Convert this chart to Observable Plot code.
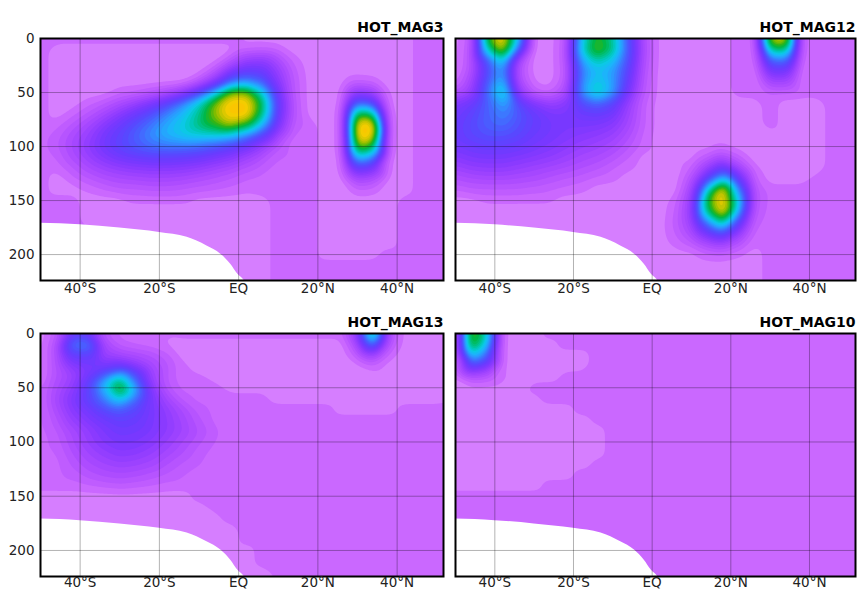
<!DOCTYPE html>
<html><head><meta charset="utf-8">
<script src="https://cdn.jsdelivr.net/npm/d3@7"></script>
<script src="https://cdn.jsdelivr.net/npm/@observablehq/plot@0.6"></script>
<style>
body{margin:0;background:#fff;}
#wrap{position:relative;width:860px;height:591px;font-family:"DejaVu Sans",sans-serif;}
.panel{position:absolute;}
</style></head><body><div id="wrap"></div>
<script>
// grid node positions (latitude, depth)
const latNodes = [-50,-46,-42,-38,-34,-30,-26,-22,-18,-14,-10,-6,-2,2,6,10,14,18,22,26,30,34,38,42,46,50,54];
const depthNodes = [0,10,20,30,40,50,60,70,80,90,100,110,120,130,140,150,160,170,180,190,200,210,220,230];
const latTicks = [-40,-20,0,20,40];
const depthTicks = [0,50,100,150,200];
const titles = ["HOT_MAG3","HOT_MAG12","HOT_MAG13","HOT_MAG10"];

const mag3 = [
[4,4,4,4,4,4,4,4,4,4,4,4,4,1,1,1,1,1,1,1,1,1,1,1,4,4,4],
[4,1,1,1,1,1,1,1,1,1,1,1,1,4,5,4,1,1,1,1,1,1,1,1,4,4,4],
[4,1,1,1,1,1,1,1,1,1,1,1,8,18,20,12,4,1,1,1,1,1,1,1,4,4,4],
[4,1,1,1,1,1,1,1,1,1,1,8,24,32,30,18,6,1,1,1,1,1,1,1,4,4,4],
[4,1,1,1,1,1,1,1,1,1,8,22,44,50,42,22,7,1,1,1,5,4,1,1,4,4,4],
[4,1,1,1,1,4,5,8,12,20,35,58,86,88,64,28,7,1,1,2,20,16,2,1,4,4,4],
[4,1,1,4,7,12,18,25,35,48,64,86,100,100,76,32,8,1,1,2,44,38,2,1,4,4,4],
[4,1,4,8,14,22,30,38,48,58,70,88,100,100,72,30,8,1,1,3,80,74,3,1,4,4,4],
[4,4,8,14,22,30,38,46,55,62,72,80,90,80,56,25,6,4,1,3,100,100,3,1,4,4,4],
[4,6,12,18,27,34,42,50,56,60,62,62,58,48,34,15,4,4,1,3,100,98,3,1,4,4,4],
[4,7,13,20,28,35,40,44,46,46,44,40,35,28,18,8,3,4,1,3,88,78,3,1,4,4,4],
[4,5,11,17,23,28,31,33,33,32,30,26,22,16,10,5,4,4,1,2,60,50,2,1,4,4,4],
[4,3,7,12,16,19,21,22,22,21,19,16,13,9,6,4,4,4,1,2,32,26,2,1,4,4,4],
[4,1,4,7,10,12,13,14,14,13,11,9,7,5,4,4,4,4,1,1,14,11,1,1,4,4,4],
[4,1,1,3,5,7,7,8,8,7,6,5,4,3,4,4,4,4,1,1,5,4,1,1,4,4,4],
[4,4,4,1,1,1,3,3,3,3,1,1,1,1,1,4,4,4,1,1,1,1,1,4,4,4,4],
[4,4,4,1,1,1,1,1,1,1,1,1,1,1,1,4,4,4,1,1,1,1,1,4,4,4,4],
[4,4,4,1,1,1,1,1,1,1,1,1,1,1,1,4,4,4,1,1,1,1,1,4,4,4,4],
[4,4,4,4,1,1,1,1,1,1,1,1,1,1,1,4,4,4,1,1,1,1,1,4,4,4,4],
[4,4,4,4,1,1,1,1,1,1,1,1,1,1,1,4,4,4,1,1,1,1,1,4,4,4,4],
[4,4,4,4,1,1,1,1,1,1,1,1,1,1,1,4,4,4,1,1,1,1,4,4,4,4,4],
[4,4,4,4,1,1,1,1,1,1,1,1,1,1,1,4,4,4,4,4,4,4,4,4,4,4,4],
[4,4,4,4,1,1,1,1,1,1,1,1,1,1,1,4,4,4,4,4,4,4,4,4,4,4,4],
[4,4,4,4,1,1,1,1,1,1,1,1,1,1,1,4,4,4,4,4,4,4,4,4,4,4,4]
];

const mag12 = [
[1,6,80,100,60,1,1,6,58,80,68,38,10,1,1,1,1,1,4,3,94,98,4,4,4,4,4],
[1,8,66,94,46,1,1,7,62,86,72,40,11,1,1,1,1,1,4,3,72,74,4,4,4,4,4],
[1,9,40,64,14,1,1,7,52,68,60,38,10,1,1,1,1,1,4,3,44,46,3,4,4,4,4],
[1,10,36,52,10,1,1,6,46,58,52,34,9,1,1,1,1,1,4,2,28,28,2,4,4,4,4],
[3,14,40,58,12,2,1,7,48,62,52,30,8,1,1,1,1,1,4,2,15,15,2,4,4,4,4],
[10,18,44,68,20,6,4,12,50,68,52,26,7,1,1,1,1,1,4,4,5,5,4,4,4,4,4],
[24,30,42,54,36,24,18,22,38,44,36,18,5,1,1,1,1,1,1,1,4,1,1,1,4,4,4],
[28,34,42,48,40,32,26,26,30,32,28,16,5,1,1,1,1,1,1,1,4,1,1,1,4,4,4],
[30,36,42,44,38,32,28,26,26,25,22,14,5,1,1,1,1,1,1,1,4,1,1,1,4,4,4],
[30,35,38,38,35,30,27,24,22,20,17,11,4,1,1,1,1,1,1,1,1,1,1,1,4,4,4],
[27,30,32,32,30,27,24,21,18,16,13,8,4,1,1,1,1,3,1,1,1,1,1,1,4,4,4],
[22,25,26,26,24,22,20,17,14,12,9,5,1,1,1,1,6,12,6,1,1,1,1,1,4,4,4],
[16,19,20,20,18,16,14,12,10,8,5,3,1,1,1,5,17,32,15,3,1,1,1,1,4,4,4],
[10,12,13,13,12,11,9,7,6,4,3,1,1,1,1,10,36,60,30,5,1,1,1,4,4,4,4],
[5,7,7,7,7,6,5,4,3,1,1,1,1,1,1,14,64,100,48,8,4,4,4,4,4,4,4],
[1,1,3,3,3,3,3,1,1,1,1,1,1,1,4,17,80,100,62,9,4,4,4,4,4,4,4],
[1,1,1,1,1,1,1,1,1,1,1,1,1,1,5,18,74,100,56,8,4,4,4,4,4,4,4],
[1,1,1,1,1,1,1,1,1,1,1,1,1,1,6,16,48,72,36,6,4,4,4,4,4,4,4],
[1,1,1,1,1,1,1,1,1,1,1,1,1,1,5,12,28,40,20,4,4,4,4,4,4,4,4],
[1,1,1,1,1,1,1,1,1,1,1,1,1,1,3,6,12,16,9,3,4,4,4,4,4,4,4],
[1,1,1,1,1,1,1,1,1,1,1,1,1,1,1,1,4,5,3,1,4,4,4,4,4,4,4],
[1,1,1,1,1,1,1,1,1,1,1,1,1,1,1,1,1,1,1,1,4,4,4,4,4,4,4],
[1,1,1,1,1,1,1,1,1,1,1,1,1,1,1,1,1,1,1,1,4,4,4,4,4,4,4],
[1,1,1,1,1,1,1,1,1,1,1,1,1,1,1,1,1,1,1,1,4,4,4,4,4,4,4]
];

const mag13 = [
[1,6,28,28,8,4,4,4,3,4,4,4,4,4,4,4,4,4,4,4,22,80,12,1,1,1,4],
[1,10,46,48,14,6,4,3,2,1,1,1,1,1,1,1,1,1,1,1,14,48,9,1,1,1,4],
[1,10,32,34,16,14,12,10,6,1,1,1,1,1,1,1,1,1,1,1,7,16,4,1,1,1,4],
[1,10,22,26,26,30,22,14,8,3,1,1,1,1,1,1,1,1,1,1,1,4,1,1,1,1,4],
[1,10,16,28,46,64,40,17,7,3,3,1,1,1,1,1,1,1,1,1,1,1,1,1,1,1,4],
[4,12,20,34,58,86,54,22,8,4,4,4,1,1,1,1,1,1,1,1,1,1,1,1,1,1,4],
[4,14,24,34,48,64,46,26,14,6,4,4,4,4,4,1,1,1,1,1,1,1,1,1,1,1,4],
[4,12,22,28,36,42,36,27,19,12,6,4,4,4,4,4,4,4,4,1,1,1,1,4,4,4,4],
[4,9,18,24,29,33,31,26,20,14,8,4,4,4,4,4,4,4,4,4,4,4,4,4,4,4,4],
[4,7,13,19,25,29,28,25,20,15,10,6,3,4,4,4,4,4,4,4,4,4,4,4,4,4,4],
[4,6,12,18,23,26,25,22,17,12,8,5,3,4,4,4,4,4,4,4,4,4,4,4,4,4,4],
[4,5,10,15,19,22,21,18,14,10,6,4,4,4,4,4,4,4,4,4,4,4,4,4,4,4,4],
[4,4,8,12,15,17,16,14,10,7,5,4,4,4,4,4,4,4,4,4,4,4,4,4,4,4,4],
[4,4,6,9,11,12,11,9,7,5,4,4,4,4,4,4,4,4,4,4,4,4,4,4,4,4,4],
[4,4,4,5,6,7,6,5,4,4,4,4,4,4,4,4,4,4,4,4,4,4,4,4,4,4,4],
[1,1,1,1,1,1,1,1,1,1,4,4,4,4,4,4,4,4,4,4,4,4,4,4,4,4,4],
[1,1,1,1,1,1,1,1,1,1,1,4,4,4,4,4,4,4,4,4,4,4,4,4,4,4,4],
[1,1,1,1,1,1,1,1,1,1,1,1,4,4,4,4,4,4,4,4,4,4,4,4,4,4,4],
[1,1,1,1,1,1,1,1,1,1,1,1,1,4,4,4,4,4,4,4,4,4,4,4,4,4,4],
[1,1,1,1,1,1,1,1,1,1,1,1,1,4,4,4,4,4,4,4,4,4,4,4,4,4,4],
[1,1,1,1,1,1,1,1,1,1,1,1,1,1,4,4,4,4,4,4,4,4,4,4,4,4,4],
[1,1,1,1,1,1,1,1,1,1,1,1,1,1,4,4,4,4,4,4,4,4,4,4,4,4,4],
[1,1,1,1,1,1,1,1,1,1,1,1,1,1,1,4,4,4,4,4,4,4,4,4,4,4,4],
[1,1,1,1,1,1,1,1,1,1,1,1,1,1,1,1,4,4,4,4,4,4,4,4,4,4,4]
];

const mag10 = [
[2,88,66,2,1,1,4,4,4,4,4,4,4,4,4,4,4,4,4,4,4,4,4,4,4,4,4],
[2,84,60,2,1,1,1,4,4,4,4,4,4,4,4,4,4,4,4,4,4,4,4,4,4,4,4],
[2,62,44,2,1,1,1,1,1,4,4,4,4,4,4,4,4,4,4,4,4,4,4,4,4,4,4],
[2,36,26,2,1,1,1,1,1,4,4,4,4,4,4,4,4,4,4,4,4,4,4,4,4,4,4],
[1,10,8,3,1,1,1,4,4,4,4,4,4,4,4,4,4,4,4,4,4,4,4,4,4,4,4],
[1,1,1,1,1,4,4,4,4,4,4,4,4,4,4,4,4,4,4,4,4,4,4,4,4,4,4],
[1,1,1,1,1,1,4,4,4,4,4,4,4,4,4,4,4,4,4,4,4,4,4,4,4,4,4],
[1,1,1,1,1,1,1,1,4,4,4,4,4,4,4,4,4,4,4,4,4,4,4,4,4,4,4],
[1,1,1,1,1,1,1,1,1,4,4,4,4,4,4,4,4,4,4,4,4,4,4,4,4,4,4],
[1,1,1,1,1,1,1,1,1,1,4,4,4,4,4,4,4,4,4,4,4,4,4,4,4,4,4],
[1,1,1,1,1,1,1,1,1,1,4,4,4,4,4,4,4,4,4,4,4,4,4,4,4,4,4],
[1,1,1,1,1,1,1,1,1,1,4,4,4,4,4,4,4,4,4,4,4,4,4,4,4,4,4],
[1,1,1,1,1,1,1,1,1,4,4,4,4,4,4,4,4,4,4,4,4,4,4,4,4,4,4],
[1,1,1,1,1,1,1,1,4,4,4,4,4,4,4,4,4,4,4,4,4,4,4,4,4,4,4],
[1,1,1,1,1,1,4,4,4,4,4,4,4,4,4,4,4,4,4,4,4,4,4,4,4,4,4],
[4,4,4,4,4,4,4,4,4,4,4,4,4,4,4,4,4,4,4,4,4,4,4,4,4,4,4],
[4,4,4,4,4,4,4,4,4,4,4,4,4,4,4,4,4,4,4,4,4,4,4,4,4,4,4],
[4,4,4,4,4,4,4,4,4,4,4,4,4,4,4,4,4,4,4,4,4,4,4,4,4,4,4],
[4,4,4,4,4,4,4,4,4,4,4,4,4,4,4,4,4,4,4,4,4,4,4,4,4,4,4],
[4,4,4,4,4,4,4,4,4,4,4,4,4,4,4,4,4,4,4,4,4,4,4,4,4,4,4],
[4,4,4,4,4,4,4,4,4,4,4,4,4,4,4,4,4,4,4,4,4,4,4,4,4,4,4],
[4,4,4,4,4,4,4,4,4,4,4,4,4,4,4,4,4,4,4,4,4,4,4,4,4,4,4],
[4,4,4,4,4,4,4,4,4,4,4,4,4,4,4,4,4,4,4,4,4,4,4,4,4,4,4],
[4,4,4,4,4,4,4,4,4,4,4,4,4,4,4,4,4,4,4,4,4,4,4,4,4,4,4]
];

// sea-floor mask boundary (no data below)
const maskLat   = [-52, -50, -40, -30, -20, -13, -8, -4.5, -2, -0.25, 1.4, 2.4];
const maskDepth = [171, 171, 172.5, 175.5, 179.6, 184, 192, 199.6, 209, 218, 224, 230];

// colormap
const cmapStops  = [0, 2.5, 5, 10, 15, 20, 25, 30, 35, 40, 45, 50, 55, 60, 65, 70, 75, 80, 85, 90, 95, 100];
const cmapColors = ["#d67eff","#ca68ff","#bf5cff","#ad4cff","#9c42ff","#8a3aff","#7838ff","#683cff","#5848ff","#4a5cff","#3c78ff","#2c98ff","#1cb4fb","#0cc8e6","#00c8b8","#00c080","#00b848","#30b418","#80bc00","#c4c400","#f4cc00","#ffc000"];

const ramp = d3.scaleLinear(cmapStops, cmapColors).interpolate(d3.interpolateRgb).clamp(true);
const levels = d3.range(0, 100, 2.5);
const fmtLat = v => v === 0 ? "EQ" : Math.abs(v) + "°" + (v < 0 ? "S" : "N");
const mask = maskLat.map((lat, i) => ({lat, depth: maskDepth[i]}));

function toPoints(grid) {
  const pts = [];
  depthNodes.forEach((depth, j) => latNodes.forEach((lat, i) => pts.push({lat, depth, v: grid[j][i]})));
  return pts;
}

function panel(grid, title, o) {
  const marks = [
    Plot.contour(toPoints(grid), {
      x: "lat", y: "depth", fill: "v",
      interpolate: "barycentric", blur: 4, pixelSize: 1,
      thresholds: levels, clip: true
    }),
    Plot.areaY(mask, {x: "lat", y1: "depth", y2: () => 240, fill: "white", curve: "monotone-x", clip: true}),
    Plot.gridX(latTicks, {stroke: "#000", strokeOpacity: 0.3, strokeWidth: 1}),
    Plot.gridY(depthTicks, {stroke: "#000", strokeOpacity: 0.3, strokeWidth: 1}),
    Plot.frame({stroke: "#000", strokeWidth: 2}),
    Plot.axisX(latTicks, {tickSize: 0, tickPadding: o.pad, tickFormat: fmtLat, label: null, fontSize: 13.5, fill: "#222"}),
    Plot.text([title], {frameAnchor: "top-right", text: d => d, textAnchor: "end", lineAnchor: "bottom", dy: -7, fontWeight: "bold", fontSize: 14, fill: "#000"})
  ];
  if (o.yAxis) marks.push(Plot.axisY(depthTicks, {tickSize: 0, tickPadding: 6, label: null, fontSize: 13.5, fill: "#222"}));
  return Plot.plot({
    width: o.w, height: o.h,
    marginLeft: o.ml, marginRight: o.mr, marginTop: o.mt, marginBottom: o.mb,
    x: {domain: [-50, 51.7]},
    y: {domain: [0, 224], reverse: true, axis: o.yAxis ? undefined : null},
    color: {type: "linear", domain: [0, 100], interpolate: t => ramp(t * 100)},
    style: {fontFamily: "DejaVu Sans", fontSize: "13.5px", color: "#222", background: "transparent", overflow: "visible"},
    marks
  });
}

const wrap = document.getElementById("wrap");
const specs = [
  {grid: mag3,  left: 0,   top: 0,   o: {w: 450, h: 300, ml: 40, mr: 7, mt: 38, mb: 20, yAxis: true,  pad: 2.5}},
  {grid: mag12, left: 450, top: 0,   o: {w: 410, h: 300, ml: 5,  mr: 5, mt: 38, mb: 20, yAxis: false, pad: 2.5}},
  {grid: mag13, left: 0,   top: 300, o: {w: 450, h: 291, ml: 40, mr: 7, mt: 33, mb: 15, yAxis: true,  pad: 1}},
  {grid: mag10, left: 450, top: 300, o: {w: 410, h: 291, ml: 5,  mr: 5, mt: 33, mb: 15, yAxis: false, pad: 1}}
];
specs.forEach((s, i) => {
  const div = document.createElement("div");
  div.className = "panel";
  div.style.left = s.left + "px";
  div.style.top = s.top + "px";
  div.appendChild(panel(s.grid, titles[i], s.o));
  wrap.appendChild(div);
});
</script></body></html>
